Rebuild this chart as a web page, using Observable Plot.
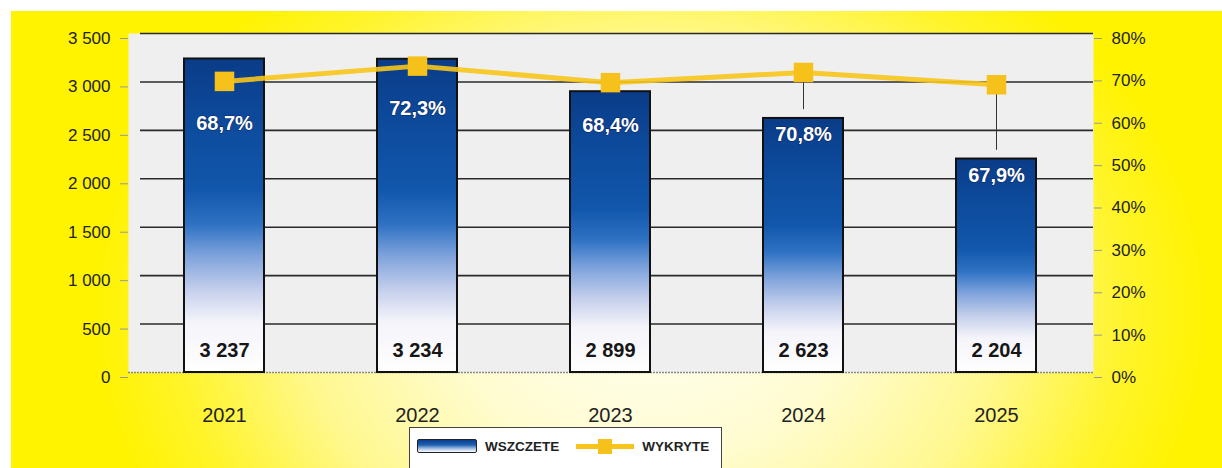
<!DOCTYPE html>
<html>
<head>
<meta charset="utf-8">
<script src="https://cdn.jsdelivr.net/npm/d3@7"></script>
<script src="https://cdn.jsdelivr.net/npm/@observablehq/plot@0.6"></script>
<style>
  html, body { margin: 0; padding: 0; background: #ffffff; }
  body { font-family: "Liberation Sans", Arial, sans-serif; }
  #wrap { position: relative; width: 1222px; height: 468px; overflow: hidden; }
  #bg {
    position: absolute; left: 11px; top: 11px; right: 0; bottom: 0;
    background:
      radial-gradient(ellipse 560px 430px at 640px 300px,
        #fffff2 0%, #fffcd0 35%, #fff890 62%, #fff42a 85%, #fff300 100%);
  }
  #chart { position: relative; }
  #chart svg { display: block; overflow: visible; }
  #legend {
    position: relative; margin-left: 409px; width: 313px; height: 44px;
    background: #ffffff; border: 1.5px solid #444; box-sizing: border-box;
    display: flex; align-items: flex-start; padding-top: 11px; padding-left: 7px;
    font-weight: bold; font-size: 13.5px; color: #222;
  }
  .sw-bar {
    width: 58px; height: 12px; border: 1.5px solid #222; border-radius: 2px;
    background: linear-gradient(to bottom, #0b3f8f 0%, #1d5fb0 40%, #9db8e2 70%, #ffffff 100%);
    margin-right: 8px; margin-top: 0px;
  }
  .sw-line { position: relative; width: 58px; height: 14px; margin-left: 17px; margin-right: 8px; }
  .sw-line .ln { position: absolute; left: 0; right: 0; top: 5px; height: 5px; background: #f7c519; }
  .sw-line .mk { position: absolute; left: 22px; top: 0; width: 14px; height: 15px; background: #f6c11a; }
  .lt { line-height: 15px; margin-top: 0px; }
</style>
</head>
<body>
<div id="wrap">
  <div id="bg"></div>
  <div id="chart"></div>
  <div id="legend">
    <div class="sw-bar"></div><span class="lt">WSZCZETE</span>
    <div class="sw-line"><div class="ln"></div><div class="mk"></div></div><span class="lt">WYKRYTE</span>
  </div>
</div>
<script>
// ---- data ----
const years = ["2021", "2022", "2023", "2024", "2025"];
const wszczete = [3237, 3234, 2899, 2623, 2204];
const wykryte = [68.7, 72.3, 68.4, 70.8, 67.9];
const leftTicks = [0, 500, 1000, 1500, 2000, 2500, 3000, 3500];
const rightTicks = [0, 10, 20, 30, 40, 50, 60, 70, 80];

const LEFT_MAX = 3500, RIGHT_MAX = 80;
const toLeft = p => p / RIGHT_MAX * LEFT_MAX;

const data = years.map((y, i) => ({
  year: y,
  count: wszczete[i],
  pct: wykryte[i],
  pctL: toLeft(wykryte[i])
}));
// label placement: below the marker, or pushed into the bar when the bar is lower
data.forEach(d => {
  const underMarker = d.pctL - 440;
  const inBar = d.count - 170;
  d.labelY = Math.min(underMarker, inBar);
  d.pushed = inBar < underMarker;
});

const fmtNum = d => d3.format(",")(d).replace(/,/g, " ");
const fmtPct = d => d.toFixed(1).replace(".", ",") + "%";

const W = 1222, H = 427;
const chart = Plot.plot({
  width: W,
  height: H,
  marginLeft: 128,
  marginRight: 129,
  marginTop: 33,
  marginBottom: 55,
  style: { background: "transparent", fontFamily: "'Liberation Sans', Arial, sans-serif", color: "#222" },
  x: { domain: years, paddingInner: 0.585, paddingOuter: 0.2925, axis: null },
  y: { domain: [0, LEFT_MAX], axis: null },
  marks: [
    Plot.frame({ fill: "#efefef", stroke: "none" }),
    Plot.ruleY(leftTicks.slice(1), { stroke: "#2a2a2a", strokeWidth: 1.6, insetLeft: 12 }),
    Plot.ruleY([0], { stroke: "#8a8a8a", strokeWidth: 1.5, strokeDasharray: "2,1" }),
    Plot.axisY({
      anchor: "left", ticks: leftTicks, tickSize: 8, tickPadding: 10,
      tickFormat: fmtNum, fontSize: 17, stroke: "#999", dy: 5, label: null
    }),
    Plot.axisY({
      anchor: "right", ticks: rightTicks.map(toLeft), tickSize: 8, tickPadding: 10,
      tickFormat: v => Math.round(v / LEFT_MAX * RIGHT_MAX) + "%", fontSize: 17, stroke: "#999", dy: 5, label: null
    }),
    Plot.axisX({ anchor: "bottom", tickSize: 0, tickPadding: 35, fontSize: 20, label: null }),
    Plot.barY(data, { x: "year", y: "count", fill: "url(#barGrad)", stroke: "#111", strokeWidth: 2 }),
    Plot.ruleX(data.filter(d => d.pushed), {
      x: "year", y1: "pctL", y2: d => d.count + 90, stroke: "#333", strokeWidth: 1
    }),
    Plot.line(data, { x: "year", y: "pctL", stroke: "#f7c519", strokeWidth: 5, strokeOpacity: 0.9 }),
    Plot.dot(data, { x: "year", y: "pctL", symbol: "square", r: 11, fill: "#f6c11a", stroke: "none" }),
    Plot.text(data, {
      x: "year", y: "labelY", text: d => fmtPct(d.pct), fill: "#ffffff",
      stroke: "#0a2a66", strokeWidth: 1.2, paintOrder: "stroke",
      fontSize: 20, fontWeight: "bold"
    }),
    Plot.text(data, {
      x: "year", y: 0, dy: -22, text: d => fmtNum(d.count), fill: "#161616",
      fontSize: 20, fontWeight: "bold"
    })
  ]
});

// gradient definition for the bars (per-bar bounding box)
const ns = "http://www.w3.org/2000/svg";
const defs = document.createElementNS(ns, "defs");
const grad = document.createElementNS(ns, "linearGradient");
grad.setAttribute("id", "barGrad");
grad.setAttribute("x1", "0"); grad.setAttribute("y1", "0");
grad.setAttribute("x2", "0"); grad.setAttribute("y2", "1");
[
  [0, "#0a3c88"], [0.2, "#0d4a9c"], [0.42, "#1157ab"], [0.53, "#2f72c4"],
  [0.63, "#7fa3dc"], [0.74, "#c6d0ec"], [0.84, "#f4f4fa"], [1, "#ffffff"]
].forEach(([o, c]) => {
  const s = document.createElementNS(ns, "stop");
  s.setAttribute("offset", o);
  s.setAttribute("stop-color", c);
  grad.appendChild(s);
});
defs.appendChild(grad);
chart.insertBefore(defs, chart.firstChild);

document.getElementById("chart").appendChild(chart);
</script>
</body>
</html>
